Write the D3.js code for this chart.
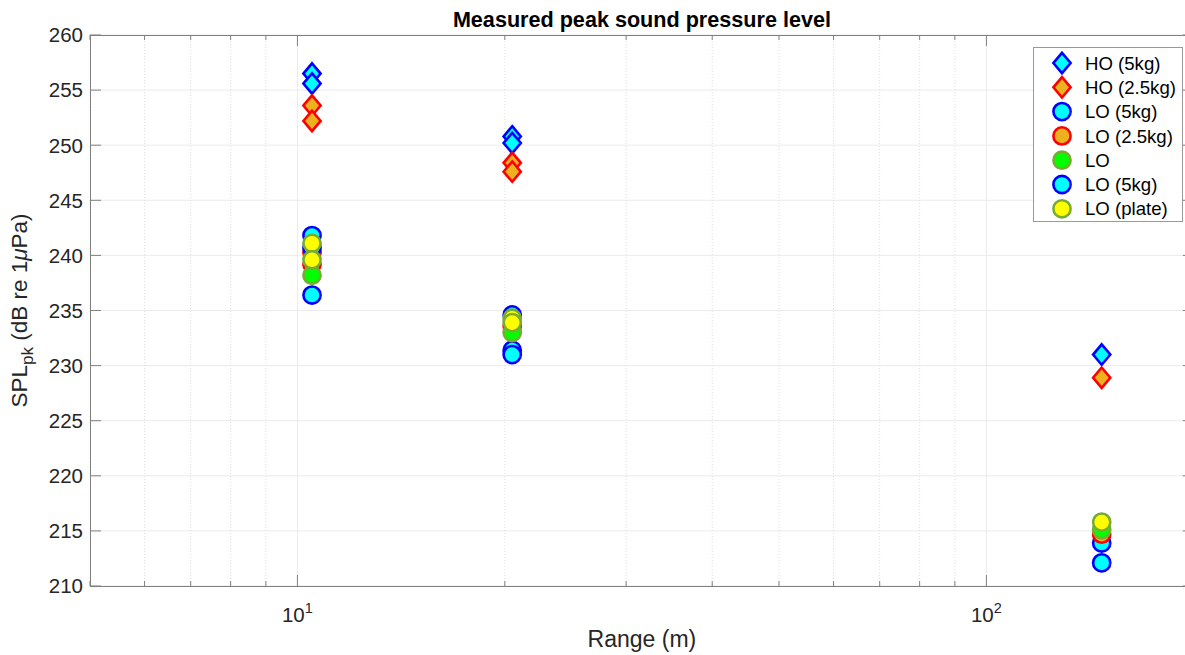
<!DOCTYPE html>
<html>
<head>
<meta charset="utf-8">
<script src="https://cdn.jsdelivr.net/npm/d3@7"></script>
<style>
  html, body { margin: 0; padding: 0; background: #fff; overflow: hidden; }
  svg { display: block; font-family: "Liberation Sans", Arial, sans-serif; }
</style>
</head>
<body>
<svg id="chart" width="1185" height="655"></svg>
<script>
// Peak sound pressure level versus range, per charge type
const seriesNames = ["HO (5kg)", "HO (2.5kg)", "LO (5kg)", "LO (2.5kg)", "LO", "LO (5kg)", "LO (plate)"];
const seriesShapes = ["diamond", "diamond", "circle", "circle", "circle", "circle", "circle"];
const seriesFill = ["#00ffff", "#edb120", "#00ffff", "#edb120", "#00ff00", "#00ffff", "#ffff00"];
const seriesEdge = ["#0000ff", "#ff0000", "#0000ff", "#ff0000", "#77ac30", "#0000ff", "#77ac30"];

// Range (m) and SPLpk (dB re 1 uPa) for each series
const rangeHO5 = [10.5, 10.5, 20.5, 20.5, 147];
const splHO5   = [256.5, 255.6, 250.8, 250.2, 231.0];
const rangeHO25 = [10.5, 10.5, 20.5, 20.5, 147];
const splHO25   = [253.6, 252.2, 248.4, 247.6, 228.9];
const rangeLO5a = [10.5, 10.5, 20.5, 20.5, 147];
const splLO5a   = [241.8, 236.4, 234.6, 231.4, 213.9];
const rangeLO25 = [10.5, 10.5, 20.5, 147];
const splLO25   = [240.3, 239.2, 233.6, 214.7];
const rangeLO = [10.5, 20.5, 147];
const splLO   = [238.2, 233.0, 215.1];
const rangeLO5b = [10.5, 20.5, 147];
const splLO5b   = [240.7, 231.0, 212.1];
const rangePlate = [10.5, 10.5, 20.5, 20.5, 147];
const splPlate   = [241.1, 239.6, 234.3, 233.9, 215.8];

const seriesRanges = [rangeHO5, rangeHO25, rangeLO5a, rangeLO25, rangeLO, rangeLO5b, rangePlate];
const seriesSpl = [splHO5, splHO25, splLO5a, splLO25, splLO, splLO5b, splPlate];

const yTicks = [210, 215, 220, 225, 230, 235, 240, 245, 250, 255, 260];
const xMajor = [10, 100];
const xMinor = [5, 6, 7, 8, 9, 20, 30, 40, 50, 60, 70, 80, 90, 200];
const xDomain = [5, 200];
const yDomain = [210, 260];

const svg = d3.select("#chart");
const plotLeft = 90, plotTop = 35, plotBottom = 586;
const decadePx = 689;
const plotRight = plotLeft + Math.log10(xDomain[1] / xDomain[0]) * decadePx;

const x = d3.scaleLog().domain(xDomain).range([plotLeft, plotRight]);
const y = d3.scaleLinear().domain(yDomain).range([plotBottom, plotTop]);

const axisColor = "#808080";
const textColor = "#262626";

// grid
const grid = svg.append("g");
grid.selectAll(".ym").data(yTicks).join("line")
  .attr("x1", plotLeft).attr("x2", plotRight)
  .attr("y1", d => y(d)).attr("y2", d => y(d))
  .attr("stroke", "#ebebeb").attr("stroke-width", 1);
grid.selectAll(".xn").data(xMinor).join("line")
  .attr("x1", d => x(d)).attr("x2", d => x(d))
  .attr("y1", plotTop).attr("y2", plotBottom)
  .attr("stroke", "#dedede").attr("stroke-width", 1)
  .attr("stroke-dasharray", "1,2");
grid.selectAll(".xm").data(xMajor).join("line")
  .attr("x1", d => x(d)).attr("x2", d => x(d))
  .attr("y1", plotTop).attr("y2", plotBottom)
  .attr("stroke", "#ebebeb").attr("stroke-width", 1);

// axes box and inward ticks
const ax = svg.append("g").attr("stroke", axisColor).attr("stroke-width", 1).attr("fill", "none");
ax.append("rect").attr("x", plotLeft + 0.5).attr("y", plotTop + 0.5)
  .attr("width", plotRight - plotLeft).attr("height", plotBottom - plotTop);
const majLen = 11, minLen = 5;
yTicks.forEach(t => {
  ax.append("line").attr("x1", plotLeft).attr("x2", plotLeft + majLen).attr("y1", y(t)).attr("y2", y(t));
  ax.append("line").attr("x1", plotRight).attr("x2", plotRight - majLen).attr("y1", y(t)).attr("y2", y(t));
});
xMajor.forEach(t => {
  ax.append("line").attr("x1", x(t)).attr("x2", x(t)).attr("y1", plotBottom).attr("y2", plotBottom - majLen);
  ax.append("line").attr("x1", x(t)).attr("x2", x(t)).attr("y1", plotTop).attr("y2", plotTop + majLen);
});
xMinor.forEach(t => {
  ax.append("line").attr("x1", x(t)).attr("x2", x(t)).attr("y1", plotBottom).attr("y2", plotBottom - minLen);
  ax.append("line").attr("x1", x(t)).attr("x2", x(t)).attr("y1", plotTop).attr("y2", plotTop + minLen);
});

// tick labels
const tickFont = 20.5;
svg.append("g").selectAll("text").data(yTicks).join("text")
  .attr("x", plotLeft - 7).attr("y", d => y(d)).attr("dy", "0.36em")
  .attr("text-anchor", "end").attr("font-size", tickFont).attr("fill", textColor)
  .text(d => d);
xMajor.forEach(t => {
  const lbl = svg.append("text").attr("x", x(t)).attr("y", plotBottom + 36)
    .attr("text-anchor", "middle").attr("font-size", tickFont).attr("fill", textColor);
  lbl.append("tspan").text("10");
  lbl.append("tspan").attr("dy", -9).attr("font-size", 14.5).text(Math.round(Math.log10(t)));
});

// markers
function markerPath(shape, cx, cy) {
  const p = d3.path();
  if (shape === "diamond") {
    const hw = 8.6, hh = 10.2;
    p.moveTo(cx, cy - hh); p.lineTo(cx + hw, cy); p.lineTo(cx, cy + hh); p.lineTo(cx - hw, cy); p.closePath();
  } else {
    p.arc(cx, cy, 8.6, 0, 2 * Math.PI);
  }
  return p.toString();
}

const marks = svg.append("g");
seriesNames.forEach((name, i) => {
  const pts = seriesRanges[i].map((r, j) => ({ r, v: seriesSpl[i][j] }));
  marks.append("g").selectAll("path").data(pts).join("path")
    .attr("d", d => markerPath(seriesShapes[i], x(d.r), y(d.v)))
    .attr("fill", seriesFill[i]).attr("stroke", seriesEdge[i]).attr("stroke-width", 2.6);
});

// title and axis labels
svg.append("text").attr("x", (plotLeft + plotRight) / 2).attr("y", 27)
  .attr("text-anchor", "middle").attr("font-size", 21.6).attr("font-weight", "bold")
  .attr("fill", "#000").text("Measured peak sound pressure level");
svg.append("text").attr("x", (plotLeft + plotRight) / 2).attr("y", 647)
  .attr("text-anchor", "middle").attr("font-size", 23).attr("fill", textColor)
  .text("Range (m)");
const yl = svg.append("text").attr("transform", `translate(27,${(plotTop + plotBottom) / 2}) rotate(-90)`)
  .attr("text-anchor", "middle").attr("font-size", 22.5).attr("fill", textColor);
yl.append("tspan").text("SPL");
yl.append("tspan").attr("dy", 6).attr("font-size", 17).text("pk");
yl.append("tspan").attr("dy", -6).text(" (dB re 1");
yl.append("tspan").attr("font-style", "italic").text("\u03bc");
yl.append("tspan").text("Pa)");

// legend
const lg = svg.append("g");
const lgX = 1033, lgY = 47, lgW = 149, lgH = 174;
lg.append("rect").attr("x", lgX + 0.5).attr("y", lgY + 0.5).attr("width", lgW).attr("height", lgH)
  .attr("fill", "#fff").attr("stroke", "#9a9a9a").attr("stroke-width", 1);
seriesNames.forEach((name, i) => {
  const cy = lgY + 16 + i * 24.3;
  lg.append("path").attr("d", markerPath(seriesShapes[i], 1062, cy))
    .attr("fill", seriesFill[i]).attr("stroke", seriesEdge[i]).attr("stroke-width", 2.6);
  lg.append("text").attr("x", 1085).attr("y", cy).attr("dy", "0.36em")
    .attr("font-size", 18.6).attr("fill", "#000").text(name);
});
</script>
</body>
</html>
